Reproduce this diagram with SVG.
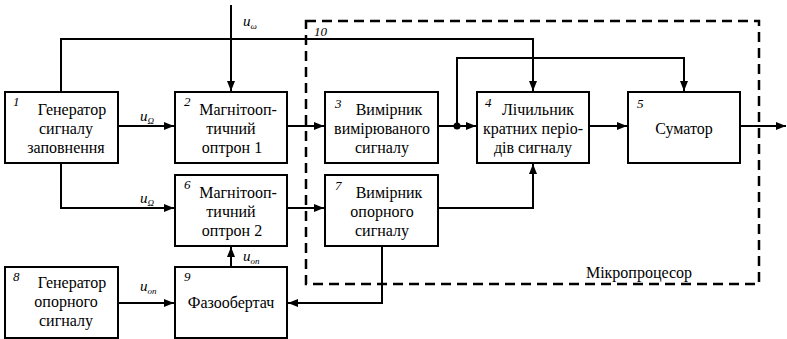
<svg xmlns="http://www.w3.org/2000/svg" width="787" height="339" viewBox="0 0 787 339">
<defs>
<marker id="ah" markerWidth="10" markerHeight="8" refX="10" refY="4" orient="auto" markerUnits="userSpaceOnUse">
<path d="M0,0 L10,4 L0,8 Z" fill="#000"/>
</marker>
<style>
text{font-family:'Liberation Serif','Times New Roman','DejaVu Serif',serif}
.box{fill:#fff;stroke:#000;stroke-width:2}
.t{font-size:16px;text-anchor:middle;fill:#000}
.n{font-size:13px;font-style:italic;fill:#000}
.u{font-size:15px;font-style:italic;fill:#000}
.s{font-size:9px}
.c{fill:none;stroke:#000;stroke-width:2}
.a{marker-end:url(#ah)}
</style>
</defs>
<rect id="mp" x="306" y="21" width="453" height="263" fill="none" stroke="#000" stroke-width="2.5" stroke-dasharray="10,6"/>
<text class="n" x="314" y="36" font-family="Liberation Serif, serif">10</text>
<text class="t" x="639" y="278" font-family="Liberation Serif, serif">Мікропроцесор</text>
<g id="connectors">
<polyline class="c a" points="231,5 231,91"/>
<polyline class="c a" points="61,92 61,39 533,39 533,91"/>
<line class="c a" x1="118" y1="126" x2="174" y2="126"/>
<line class="c a" x1="287" y1="126" x2="324" y2="126"/>
<line class="c a" x1="438" y1="126" x2="476" y2="126"/>
<circle cx="457" cy="126" r="3.5" fill="#000"/>
<polyline class="c a" points="457,126 457,58 684,58 684,91"/>
<line class="c a" x1="589" y1="126" x2="627" y2="126"/>
<line class="c a" x1="740" y1="126" x2="786" y2="126"/>
<polyline class="c a" points="61,163 61,208 174,208"/>
<line class="c a" x1="287" y1="208" x2="324" y2="208"/>
<polyline class="c a" points="438,208 533,208 533,164"/>
<polyline class="c a" points="382,246 382,303 288,303"/>
<line class="c a" x1="118" y1="303" x2="174" y2="303"/>
<line class="c a" x1="231" y1="267" x2="231" y2="247"/>
<text class="u" x="243" y="26">u<tspan class="s" dy="3">ω</tspan></text>
<text class="u" x="140" y="121">u<tspan class="s" dy="3">Ω</tspan></text>
<text class="u" x="140" y="203">u<tspan class="s" dy="3">Ω</tspan></text>
<text class="u" x="140" y="291">u<tspan class="s" dy="3">оп</tspan></text>
<text class="u" x="243" y="261">u<tspan class="s" dy="3">оп</tspan></text>
</g>
<g id="n1">
<rect class="box" x="5" y="92" width="113" height="71"/>
<text class="n" x="13" y="106">1</text>
<text class="t" x="72" y="115">Генератор</text>
<text class="t" x="66" y="134">сигналу</text>
<text class="t" x="66" y="153">заповнення</text>
</g>
<g id="n2">
<rect class="box" x="175" y="92" width="112" height="71"/>
<text class="n" x="184" y="106">2</text>
<text class="t" x="238" y="115">Магнітооп-</text>
<text class="t" x="231" y="134">тичний</text>
<text class="t" x="232" y="153">оптрон  1</text>
</g>
<g id="n3">
<rect class="box" x="325" y="92" width="113" height="71"/>
<text class="n" x="335" y="108">3</text>
<text class="t" x="389" y="115">Вимірник</text>
<text class="t" x="382" y="134">вимірюваного</text>
<text class="t" x="382" y="153">сигналу</text>
</g>
<g id="n4">
<rect class="box" x="477" y="92" width="112" height="71"/>
<text class="n" x="485" y="107">4</text>
<text class="t" x="538" y="115">Лічильник</text>
<text class="t" x="533" y="134">кратних періо-</text>
<text class="t" x="533" y="153">дів сигналу</text>
</g>
<g id="n5">
<rect class="box" x="628" y="92" width="112" height="71"/>
<text class="n" x="637" y="108">5</text>
<text class="t" x="684" y="134">Суматор</text>
</g>
<g id="n6">
<rect class="box" x="175" y="175" width="112" height="71"/>
<text class="n" x="184" y="189">6</text>
<text class="t" x="238" y="198">Магнітооп-</text>
<text class="t" x="231" y="217">тичний</text>
<text class="t" x="232" y="236">оптрон  2</text>
</g>
<g id="n7">
<rect class="box" x="325" y="175" width="113" height="71"/>
<text class="n" x="335" y="190">7</text>
<text class="t" x="389" y="198">Вимірник</text>
<text class="t" x="382" y="217">опорного</text>
<text class="t" x="382" y="236">сигналу</text>
</g>
<g id="n8">
<rect class="box" x="5" y="267" width="113" height="71"/>
<text class="n" x="13" y="281">8</text>
<text class="t" x="72" y="288">Генератор</text>
<text class="t" x="66" y="307">опорного</text>
<text class="t" x="66" y="326">сигналу</text>
</g>
<g id="n9">
<rect class="box" x="175" y="267" width="112" height="71"/>
<text class="n" x="184" y="281">9</text>
<text class="t" x="231" y="308">Фазообертач</text>
</g>
</svg>
